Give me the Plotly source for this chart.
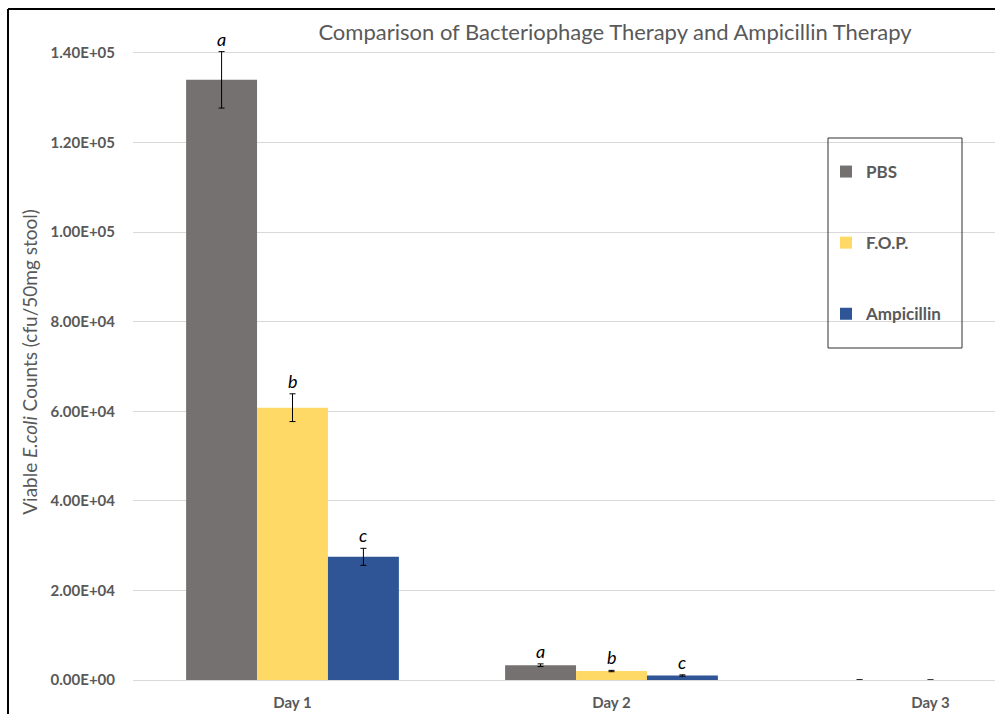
import plotly.graph_objects as go

# ---- data ----
days = ["Day 1", "Day 2", "Day 3"]
series_names = ["PBS", "F.O.P.", "Ampicillin"]
pbs_values = [134000, 3300, 0]
fop_values = [60800, 2000, 0]
amp_values = [27500, 1000, 0]
pbs_errors = [6300, 300, 60]
fop_errors = [3100, 150, 0]
amp_errors = [1900, 150, 0]
pbs_letters = ["a", "a", ""]
fop_letters = ["b", "b", ""]
amp_letters = ["c", "c", ""]
y_tick_values = [0, 20000, 40000, 60000, 80000, 100000, 120000, 140000]
y_tick_labels = ["0.00E+00", "2.00E+04", "4.00E+04", "6.00E+04",
                 "8.00E+04", "1.00E+05", "1.20E+05", "1.40E+05"]

colors = ["#767171", "#FFD966", "#2F5597"]
values = [pbs_values, fop_values, amp_values]
errors = [pbs_errors, fop_errors, amp_errors]
letters = [pbs_letters, fop_letters, amp_letters]

# ---- layout geometry (pixels) ----
W, H = 995, 714
L, R, T, B = 133, 0, 44, 34
plot_w = W - L - R
plot_h = H - T - B


def px_x(px):
    return (px - L) / plot_w


def px_y(py):
    return (H - B - py) / plot_h


bargap = 0.333
x_idx = list(range(len(days)))

fig = go.Figure()
for name, vals, errs, col in zip(series_names, values, errors, colors):
    fig.add_trace(go.Bar(
        x=x_idx, y=vals, name=name, legendgroup=name,
        marker=dict(color=col, line=dict(width=0)),
        error_y=dict(type="data", array=errs, visible=True,
                     color="#000000", thickness=1, width=3),
    ))

bar_w = (1 - bargap) / len(series_names)
for j, (vals, errs, lets) in enumerate(zip(values, errors, letters)):
    for i in x_idx:
        if lets[i]:
            fig.add_annotation(
                x=i + (j - 1) * bar_w, y=vals[i] + errs[i],
                xref="x", yref="y", text="<i>%s</i>" % lets[i],
                showarrow=False, yanchor="middle", yshift=13,
                font=dict(family="Lato", size=18, color="#000000"),
            )

fig.update_layout(
    width=W, height=H,
    margin=dict(l=L, r=R, t=T, b=B, autoexpand=False),
    paper_bgcolor="#ffffff", plot_bgcolor="#ffffff",
    barmode="group", bargap=bargap, bargroupgap=0,
    font=dict(family="Lato", color="#595959"),
    title=dict(text="Comparison of Bacteriophage Therapy and Ampicillin Therapy",
               x=px_x(615), xref="paper", xanchor="center",
               y=1 - 32 / H, yref="container", yanchor="middle",
               font=dict(family="Lato", size=22, color="#595959")),
    xaxis=dict(range=[-0.5, -0.5 + plot_w / 319], tickvals=x_idx, ticktext=days,
               showgrid=False, zeroline=False, showline=False,
               ticks="outside", ticklen=9, tickcolor="rgba(0,0,0,0)",
               tickfont=dict(family="Lato", size=15, color="#595959", weight="bold")),
    yaxis=dict(range=[0, 142000], tickvals=y_tick_values, ticktext=y_tick_labels,
               showgrid=True, gridcolor="#d9d9d9", gridwidth=1,
               zeroline=True, zerolinecolor="#d9d9d9", zerolinewidth=1,
               showline=False, ticks="outside", ticklen=14, tickcolor="rgba(0,0,0,0)",
               tickfont=dict(family="Lato", size=15, color="#595959", weight="bold"),
               title=dict(text="Viable <i>E.coli</i> Counts (cfu/50mg stool)",
                          standoff=7,
                          font=dict(family="Lato", size=19, color="#595959"))),
    legend=dict(x=px_x(826), y=px_y(154), xanchor="left", yanchor="top",
                bgcolor="rgba(0,0,0,0)", borderwidth=0, tracegroupgap=46,
                traceorder="grouped",
                font=dict(family="Lato", size=17, color="#595959", weight="bold")),
    shapes=[
        dict(type="rect", xref="paper", yref="paper",
             x0=px_x(828), x1=px_x(962), y0=px_y(348), y1=px_y(138),
             line=dict(color="#303030", width=1), fillcolor="rgba(0,0,0,0)"),
        dict(type="line", xref="paper", yref="paper",
             x0=px_x(8), x1=px_x(8), y0=px_y(H + 5), y1=px_y(9),
             line=dict(color="#000000", width=2)),
        dict(type="line", xref="paper", yref="paper",
             x0=px_x(8), x1=px_x(W + 5), y0=px_y(9), y1=px_y(9),
             line=dict(color="#000000", width=2)),
    ],
)

fig.write_html("out.html", config={"displayModeBar": False},
               post_script="document.body.style.margin='0';document.body.style.overflow='hidden';")
